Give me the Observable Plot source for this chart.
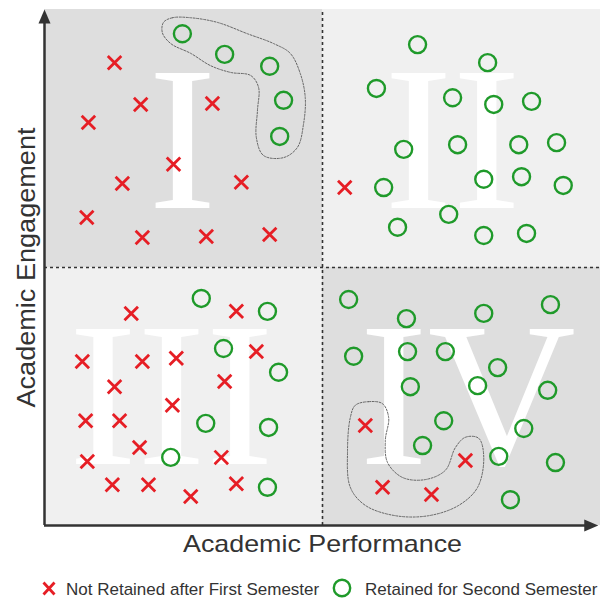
<!DOCTYPE html>
<html><head><meta charset="utf-8">
<script src="https://cdn.jsdelivr.net/npm/d3@7"></script>
<script src="https://cdn.jsdelivr.net/npm/@observablehq/plot@0.6"></script>
<style>
body{margin:0;background:#fff}
#chart{width:606px}
#legend{position:relative;width:606px;height:28px;font-family:"Liberation Sans",Arial,sans-serif;font-size:17px;color:#333;line-height:1}
#legend span{position:absolute;top:9px;white-space:nowrap}
#legend svg{position:absolute}
</style>
</head><body>
<div id="chart"></div>
<div id="legend"></div>
<script>
// Quadrants (axis units 0..100)
const quadNames = ["I", "II", "III", "IV"];
const quadX = [[0, 50], [50, 100], [0, 50], [50, 100]];
const quadY = [[50, 100], [50, 100], [0, 50], [0, 50]];
const quadShade = ["#dedede", "#f0f0f0", "#f0f0f0", "#dedede"];
const numeralX = [24.8, 73.4, 22.8, 76.1];
const numeralY = [61.6, 61.6, 12.0, 12.0];

// Not retained after first semester (red X)
const notRetained = [
  [12.6, 89.7], [17.3, 81.6], [30.2, 81.8], [7.9, 78.1], [23.2, 70.0], [14.0, 66.3],
  [35.4, 66.5], [7.6, 59.7], [17.6, 55.8], [29.1, 56.0], [40.5, 56.4],
  [54.0, 65.5],
  [15.6, 41.1], [34.5, 41.5], [38.1, 33.7], [6.8, 31.8], [17.6, 31.8], [23.7, 32.4],
  [12.6, 26.9], [32.4, 27.9], [23.0, 23.3], [7.4, 20.3], [13.5, 20.3], [17.1, 15.1],
  [7.7, 12.4], [31.8, 13.2], [12.2, 7.9], [18.7, 7.9], [26.3, 5.6], [34.5, 8.1],
  [57.7, 19.4], [75.7, 12.6], [60.8, 7.4], [69.6, 6.0]
];

// Retained for second semester (green O)
const retained = [
  [24.8, 95.3], [32.4, 91.3], [40.5, 89.0], [43.0, 82.4], [42.3, 75.4],
  [67.1, 93.2], [79.7, 89.7], [59.7, 84.7], [73.4, 82.9], [80.8, 81.6], [87.6, 82.2],
  [64.6, 72.9], [74.3, 73.8], [85.3, 73.8], [92.1, 74.2], [61.0, 65.5], [79.0, 67.1],
  [85.8, 67.6], [93.3, 65.9], [72.7, 60.3], [63.5, 57.8], [79.0, 56.2], [86.7, 56.6],
  [28.2, 44.0], [40.1, 41.5], [32.2, 34.3], [42.1, 29.7], [29.0, 19.8], [40.3, 19.0],
  [22.7, 13.2], [40.1, 7.4],
  [54.7, 43.8], [65.1, 40.1], [79.0, 41.1], [91.0, 42.8], [55.6, 32.8], [65.3, 33.7],
  [72.1, 33.7], [81.5, 30.6], [65.8, 26.9], [77.9, 27.1], [90.5, 26.2], [71.8, 20.3],
  [86.2, 18.8], [68.0, 15.5], [81.7, 13.4], [91.9, 12.2], [83.8, 5.0]
];

// Dotted outlines (groups)
const blobTop = [
  [21.4, 97.5], [23.0, 98.4], [26.3, 98.4], [31.1, 97.5], [36.5, 95.3], [41.2, 93.4],
  [44.2, 91.5], [46.0, 87.6], [46.9, 82.9], [46.6, 77.9], [45.5, 73.3], [43.0, 71.3],
  [39.4, 71.7], [38.1, 75.2], [38.3, 80.4], [38.5, 84.9], [37.1, 87.2], [33.5, 87.8],
  [29.9, 89.1], [26.3, 91.5], [22.7, 93.4], [21.2, 95.5]
];
const blobBottom = [
  [55.9, 23.3], [58.3, 24.0], [60.8, 23.6], [61.9, 20.9], [61.3, 16.5], [61.7, 12.2],
  [64.4, 9.3], [68.5, 8.9], [72.1, 10.7], [73.9, 15.1], [75.7, 17.1], [78.1, 16.9],
  [79.0, 13.2], [77.9, 7.4], [74.5, 3.9], [69.1, 1.9], [63.1, 1.9], [57.7, 3.9],
  [55.0, 7.4], [54.5, 14.5], [55.0, 20.9]
];

const xLabel = "Academic Performance";
const yLabel = "Academic Engagement";
const legendLabels = ["Not Retained after First Semester", "Retained for Second Semester"];

const RED = "#e61e25", GREEN = "#1f9a2a", INK = "#333";

const quads = quadNames.map((name, i) => ({
  name, x1: quadX[i][0], x2: quadX[i][1], y1: quadY[i][0], y2: quadY[i][1],
  fill: quadShade[i], nx: numeralX[i], ny: numeralY[i]
}));

const arrowHead = {
  draw(ctx) { ctx.moveTo(0, 0); ctx.lineTo(-6, 14); ctx.lineTo(6, 14); ctx.closePath(); }
};
const arrowTips = [[0, 100, 0], [99.6, 0, 90]];

const chart = Plot.plot({
  width: 606,
  height: 572,
  marginLeft: 44,
  marginRight: 6,
  marginTop: 9,
  marginBottom: 47,
  x: {domain: [0, 100], axis: null},
  y: {domain: [0, 100], axis: null},
  color: {type: "identity"},
  marks: [
    Plot.rect(quads, {x1: "x1", x2: "x2", y1: "y1", y2: "y2", fill: "fill"}),
    Plot.text(quads, {x: "nx", y: "ny", text: "name", fontFamily: "Liberation Serif", fontSize: 205,
      fill: "white", lineAnchor: "bottom", textAnchor: "middle"}),
    Plot.ruleX([50], {y1: 0, y2: 100, stroke: INK, strokeWidth: 1.6, strokeDasharray: "3,3"}),
    Plot.ruleY([50], {x1: 0, x2: 100, stroke: INK, strokeWidth: 1.6, strokeDasharray: "3,3"}),
    Plot.line(blobTop, {x: d => d[0], y: d => d[1], curve: "catmull-rom-closed",
      stroke: "#666", strokeWidth: 1, strokeDasharray: "2,1.5"}),
    Plot.line(blobBottom, {x: d => d[0], y: d => d[1], curve: "catmull-rom-closed",
      stroke: "#666", strokeWidth: 1, strokeDasharray: "2,1.5"}),
    Plot.dot(notRetained, {x: d => d[0], y: d => d[1], symbol: "times", r: 6.2,
      stroke: RED, strokeWidth: 2.8}),
    Plot.dot(retained, {x: d => d[0], y: d => d[1], r: 8.5, fill: "none",
      stroke: GREEN, strokeWidth: 2.4}),
    Plot.ruleY([0], {x1: 0, x2: 98.5, stroke: INK, strokeWidth: 2.5}),
    Plot.ruleX([0], {y1: 0, y2: 98, stroke: INK, strokeWidth: 2.5}),
    Plot.dot(arrowTips, {x: d => d[0], y: d => d[1], rotate: d => d[2], symbol: arrowHead,
      fill: INK, stroke: "none"}),
    Plot.text([xLabel], {frameAnchor: "bottom", dy: 26, lineAnchor: "bottom", textAnchor: "middle",
      fontSize: 24, fontFamily: "Liberation Sans", fill: INK}),
    Plot.text([yLabel], {frameAnchor: "left", dx: -10, rotate: -90, lineAnchor: "bottom",
      textAnchor: "middle", fontSize: 25, fontFamily: "Liberation Sans", fill: INK})
  ]
});
document.getElementById("chart").appendChild(chart);

// stretch axis titles to the reference widths
d3.select(chart).selectAll("text").each(function () {
  const t = this.textContent;
  if (t === xLabel) d3.select(this).attr("textLength", 279).attr("lengthAdjust", "spacingAndGlyphs");
  if (t === yLabel) d3.select(this).attr("textLength", 280).attr("lengthAdjust", "spacingAndGlyphs");
});

// legend
const legend = d3.select("#legend");
const ix = legend.append("svg").attr("width", 14).attr("height", 15)
  .style("left", "42px").style("top", "9px");
ix.append("path").attr("d", "M1.5,1.5L12.5,13.5M12.5,1.5L1.5,13.5")
  .attr("stroke", RED).attr("stroke-width", 2.8).attr("fill", "none");
legend.append("span").style("left", "66px").text(legendLabels[0]);
const ic = legend.append("svg").attr("width", 22).attr("height", 22)
  .style("left", "331px").style("top", "5px");
ic.append("circle").attr("cx", 11).attr("cy", 11).attr("r", 8.2)
  .attr("stroke", GREEN).attr("stroke-width", 2.4).attr("fill", "none");
legend.append("span").style("left", "365px").text(legendLabels[1]);
</script>
</body></html>
